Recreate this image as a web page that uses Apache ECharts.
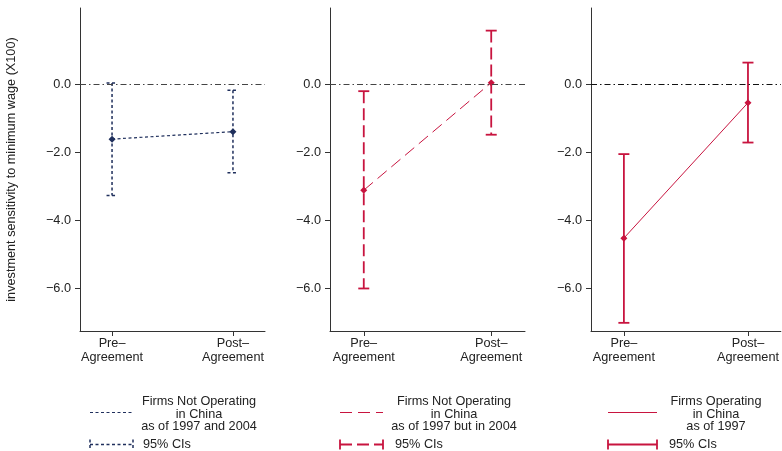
<!DOCTYPE html>
<html>
<head>
<meta charset="utf-8">
<script src="https://cdn.jsdelivr.net/npm/echarts@6/dist/echarts.min.js"></script>
<style>
  html, body { margin: 0; padding: 0; background: #fff; }
  #chart { width: 782px; height: 451px; }
</style>
</head>
<body>
<div id="chart"></div>
<script>
// categories on the x axis (0 = pre, 1 = post)
var categories = ['Pre\u2013\nAgreement', 'Post\u2013\nAgreement'];
var yTicks = [-6, -4, -2, 0];

// firms not operating in China as of 1997 and 2004
var notBothEst = [-1.62, -1.40];
var notBothLo = [-3.28, -2.61];
var notBothHi = [0.03, -0.18];

// firms not operating in China as of 1997 but in 2004
var notButEst = [-3.12, 0.04];
var notButLo = [-6.01, -1.49];
var notButHi = [-0.21, 1.57];

// firms operating in China as of 1997
var operEst = [-4.53, -0.55];
var operLo = [-7.02, -1.72];
var operHi = [-2.06, 0.63];

var NAVY = '#1f2f5c';
var RED = '#c8143f';
var FONT = 'Liberation Sans';
var FS = 12.7;

var panels = [
  { est: notBothEst, lo: notBothLo, hi: notBothHi, color: NAVY, dash: [3, 2.5], barDash: [3, 2.5], capDash: [3, 2.5], lw: 1.2, bw: 1.5, sym: 7 },
  { est: notButEst, lo: notButLo, hi: notButHi, color: RED, dash: [12, 6], barDash: [12, 5], capDash: 'solid', lw: 1, bw: 1.8, sym: 7 },
  { est: operEst, lo: operLo, hi: operHi, color: RED, dash: 'solid', barDash: 'solid', capDash: 'solid', lw: 1, bw: 1.8, sym: 7 }
];

var grids = [
  { left: 80, top: 8, width: 185, height: 323 },
  { left: 330, top: 8, width: 195, height: 323 },
  { left: 591, top: 8, width: 192, height: 323 }
];

var xAxes = [], yAxes = [], series = [];

panels.forEach(function (p, i) {
  xAxes.push({
    type: 'value', gridIndex: i, min: -0.265, max: 1.265,
    axisLine: { show: true, onZero: false, lineStyle: { color: '#333', width: 1 } },
    axisTick: { show: true, length: 5, customValues: [0, 1], lineStyle: { color: '#333' } },
    axisLabel: {
      customValues: [0, 1], color: '#222', fontFamily: FONT, fontSize: FS, lineHeight: 13.5, margin: 6,
      formatter: function (v) { return categories[Math.round(v)]; }
    },
    splitLine: { show: false }
  });
  yAxes.push({
    type: 'value', gridIndex: i, min: -7.26, max: 2.235,
    name: i === 0 ? 'investment sensitivity to minimum wage (X100)' : '',
    nameLocation: 'middle', nameGap: 62,
    nameTextStyle: { color: '#222', fontFamily: FONT, fontSize: FS },
    axisLine: { show: true, onZero: false, lineStyle: { color: '#333', width: 1 } },
    axisTick: { show: true, length: 5, customValues: yTicks, lineStyle: { color: '#333' } },
    axisLabel: {
      customValues: yTicks, color: '#222', fontFamily: FONT, fontSize: FS, margin: 9,
      formatter: function (v) { return (v < 0 ? '\u2212' : '') + Math.abs(v).toFixed(1); }
    },
    splitLine: { show: false }
  });

  var bars = p.est.map(function (e, k) { return [k, p.lo[k], p.hi[k]]; });
  series.push({
    type: 'custom', xAxisIndex: i, yAxisIndex: i, silent: true, z: 2,
    data: bars,
    renderItem: function (params, api) {
      var top = api.coord([api.value(0), api.value(2)]);
      var bot = api.coord([api.value(0), api.value(1)]);
      var hw = 5.5;
      return {
        type: 'group',
        children: [
          { type: 'line', shape: { x1: top[0], y1: top[1], x2: bot[0], y2: bot[1] },
            style: { stroke: p.color, lineWidth: p.bw, lineDash: p.barDash === 'solid' ? null : p.barDash } },
          { type: 'line', shape: { x1: top[0] - hw, y1: top[1], x2: top[0] + hw, y2: top[1] },
            style: { stroke: p.color, lineWidth: p.bw, lineDash: p.capDash === 'solid' ? null : p.capDash } },
          { type: 'line', shape: { x1: bot[0] - hw, y1: bot[1], x2: bot[0] + hw, y2: bot[1] },
            style: { stroke: p.color, lineWidth: p.bw, lineDash: p.capDash === 'solid' ? null : p.capDash } }
        ]
      };
    }
  });

  series.push({
    type: 'line', xAxisIndex: i, yAxisIndex: i, silent: true, z: 3,
    data: p.est.map(function (e, k) { return [k, e]; }),
    symbol: 'diamond', symbolSize: p.sym,
    itemStyle: { color: p.color },
    lineStyle: { color: p.color, width: p.lw, type: p.dash },
    markLine: {
      silent: true, symbol: 'none', label: { show: false },
      lineStyle: { color: i === 2 ? '#111' : '#444', width: 1, type: [6, 3, 1.5, 3] },
      data: [{ yAxis: 0 }]
    }
  });
});

// legend drawn as graphic elements
var legendItems = [
  { x: 90, w: 43, tx: 199, cx: 143, text: 'Firms Not Operating\nin China\nas of 1997 and 2004', p: panels[0] },
  { x: 340, w: 43, tx: 454, cx: 395, text: 'Firms Not Operating\nin China\nas of 1997 but in 2004', p: panels[1] },
  { x: 608, w: 49, tx: 716, cx: 669, text: 'Firms Operating\nin China\nas of 1997', p: panels[2] }
];
var graphics = [];
legendItems.forEach(function (it) {
  var p = it.p;
  graphics.push({ type: 'line', shape: { x1: it.x, y1: 412.5, x2: it.x + it.w, y2: 412.5 },
    style: { stroke: p.color, lineWidth: p.lw, lineDash: p.dash === 'solid' ? null : p.dash } });
  graphics.push({ type: 'text', x: it.tx, y: 414, style: {
    text: it.text, align: 'center', verticalAlign: 'middle', fill: '#222',
    fontFamily: FONT, fontSize: FS, lineHeight: 12.5 } });
  graphics.push({ type: 'line', shape: { x1: it.x, y1: 444.5, x2: it.x + it.w, y2: 444.5 },
    style: { stroke: p.color, lineWidth: p.bw, lineDash: p.barDash === 'solid' ? null : p.barDash } });
  graphics.push({ type: 'line', shape: { x1: it.x, y1: 439.5, x2: it.x, y2: 449.5 },
    style: { stroke: p.color, lineWidth: p.bw, lineDash: p.capDash === 'solid' ? null : p.capDash } });
  graphics.push({ type: 'line', shape: { x1: it.x + it.w, y1: 439.5, x2: it.x + it.w, y2: 449.5 },
    style: { stroke: p.color, lineWidth: p.bw, lineDash: p.capDash === 'solid' ? null : p.capDash } });
  graphics.push({ type: 'text', x: it.cx, y: 444.5, style: {
    text: '95% CIs', align: 'left', verticalAlign: 'middle', fill: '#222',
    fontFamily: FONT, fontSize: FS } });
});

var chart = echarts.init(document.getElementById('chart'));
chart.setOption({
  backgroundColor: '#fff',
  animation: false,
  grid: grids,
  xAxis: xAxes,
  yAxis: yAxes,
  series: series,
  graphic: graphics
});
</script>
</body>
</html>
